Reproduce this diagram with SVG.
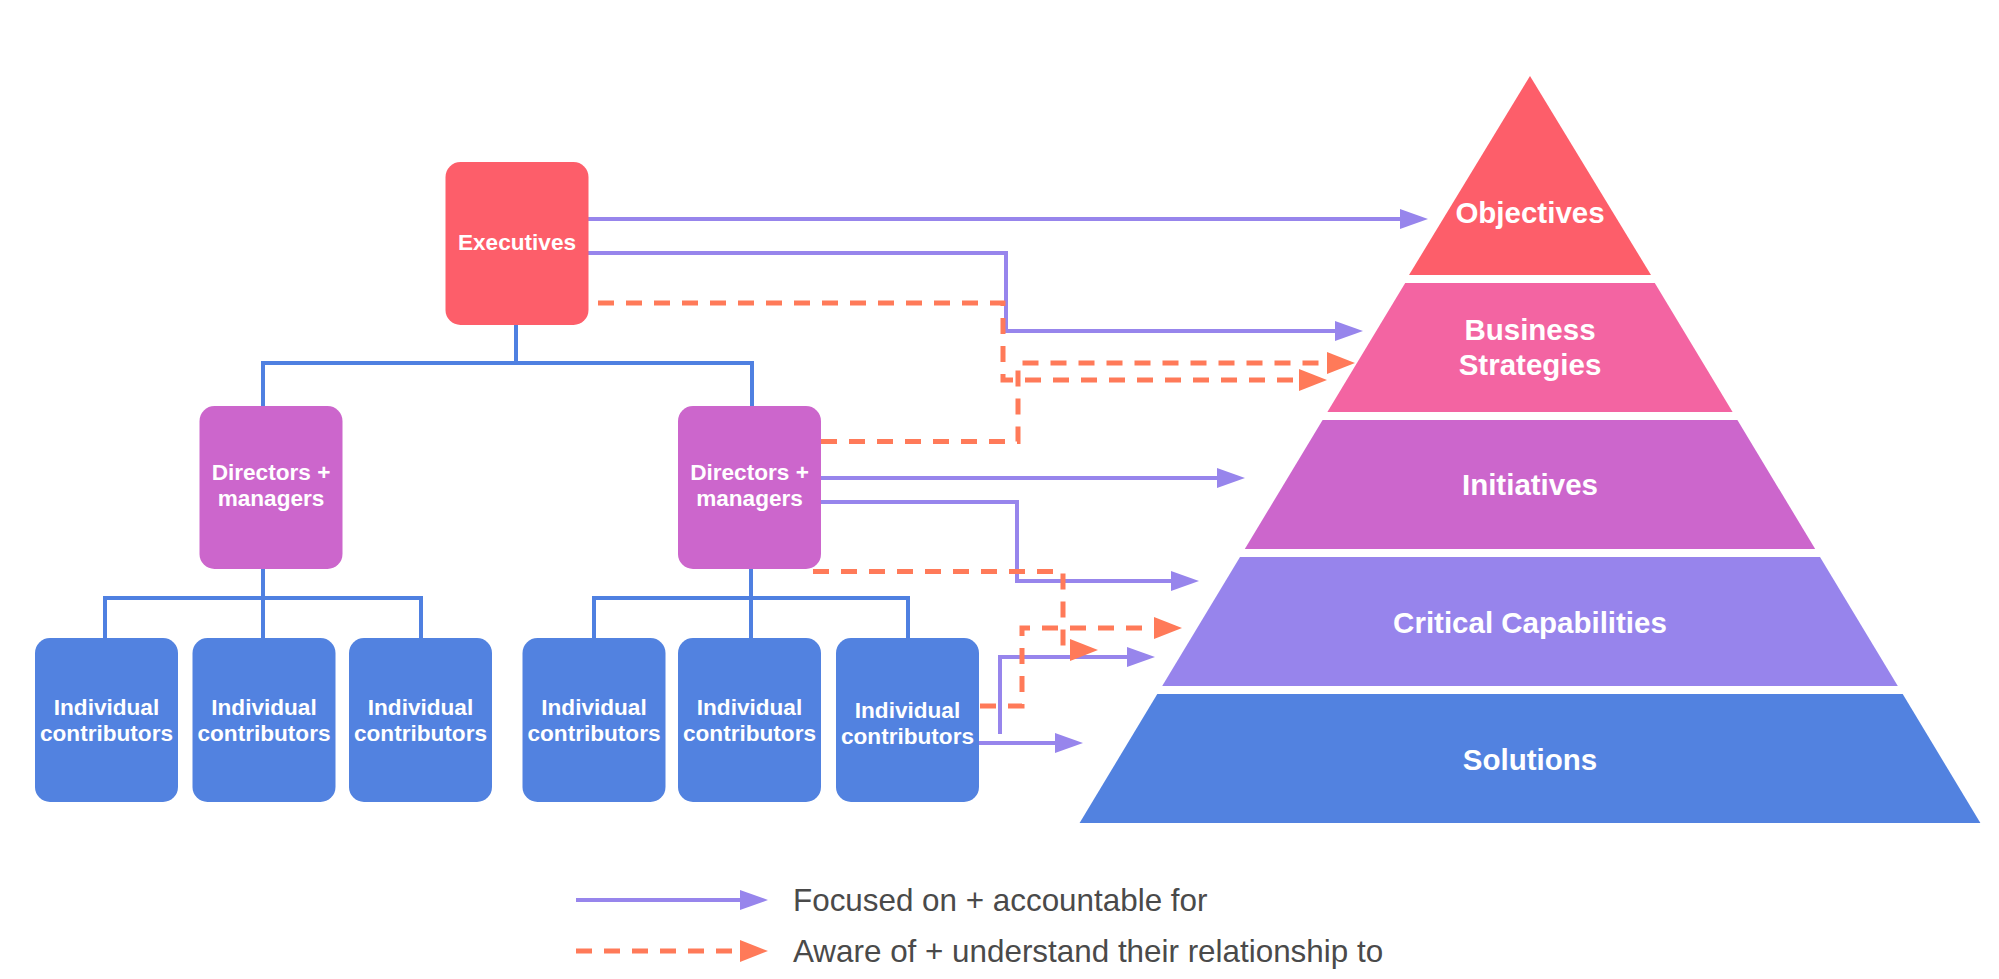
<svg xmlns="http://www.w3.org/2000/svg" width="1999" height="979" viewBox="0 0 1999 979">
<style>
.box-t{font-family:"Liberation Sans",Arial,sans-serif;font-weight:bold;font-size:22.6px;fill:#fff;text-anchor:middle}
.pyr-t{font-family:"Liberation Sans",Arial,sans-serif;font-weight:bold;font-size:29.5px;fill:#fff;text-anchor:middle}
.leg-t{font-family:"Liberation Sans",Arial,sans-serif;font-size:31.4px;fill:#4a4a4a}
.tree{fill:none;stroke:#4f80e1;stroke-width:4}
.focus{fill:none;stroke:#9785ec;stroke-width:4;marker-end:url(#ph)}
.aware{fill:none;stroke:#ff7a59;stroke-width:5;stroke-dasharray:16 12;marker-end:url(#oh)}
.exec{fill:#fd5e6a}
.dir{fill:#cc66cc}
.ic{fill:#5282e0}
</style>
<defs>
<marker id="ph" viewBox="0 0 28 20" refX="0" refY="10" markerWidth="28" markerHeight="20" markerUnits="userSpaceOnUse" orient="auto">
<path d="M0,0 L28,10 L0,20 z" fill="#9785ec"/>
</marker>
<marker id="oh" viewBox="0 0 28 22" refX="0" refY="11" markerWidth="28" markerHeight="22" markerUnits="userSpaceOnUse" orient="auto">
<path d="M0,0 L28,11 L0,22 z" fill="#ff7a59"/>
</marker>
</defs>
<rect width="1999" height="979" fill="#fff"/>

<g id="pyramid">
<g id="objectives"><polygon points="1530,76 1651,275 1409,275" fill="#fd5e6a"/><text class="pyr-t" x="1530" y="223">Objectives</text></g>
<g id="business-strategies"><polygon points="1405.2,283 1654.8,283 1732.6,412 1327.4,412" fill="#f364a2"/><text class="pyr-t" x="1530" y="340">Business</text><text class="pyr-t" x="1530" y="375">Strategies</text></g>
<g id="initiatives"><polygon points="1322.6,420 1737.4,420 1815.2,549 1244.8,549" fill="#cc66cc"/><text class="pyr-t" x="1530" y="495">Initiatives</text></g>
<g id="critical-capabilities"><polygon points="1240,557 1820,557 1897.8,686 1162.2,686" fill="#9784ec"/><text class="pyr-t" x="1530" y="633">Critical Capabilities</text></g>
<g id="solutions"><polygon points="1157.3,694 1902.7,694 1980.4,823 1079.6,823" fill="#5282e0"/><text class="pyr-t" x="1530" y="770">Solutions</text></g>
</g>

<g id="connectors">
<path class="tree" d="M516,325 V363 M263,406 V363 H752 V406"/>
<path class="tree" d="M263,569 V638 M105,638 V598 H421 V638"/>
<path class="tree" d="M751,569 V638 M594,638 V598 H908 V638"/>

<path class="focus" d="M588,219 H1400"/>
<path class="focus" d="M588,253 H1006 V331 H1335"/>
<path class="focus" d="M821,478 H1217"/>
<path class="focus" d="M821,502 H1017 V581 H1171"/>
<path class="focus" d="M1000,734 V657 H1127"/>
<path class="focus" d="M979,743 H1055"/>

<path class="aware" d="M598,303 H1003 V380 H1299"/>
<path class="aware" d="M821,441.5 H1018 V363 H1327"/>
<path class="aware" d="M813,571.5 H1063 V650 H1070"/>
<path class="aware" d="M980,706 H1022 V628 H1154"/>
</g>

<g id="executives"><rect class="exec" x="445.5" y="162" width="143" height="163" rx="15"/><text class="box-t" x="517" y="250">Executives</text></g>
<g id="directors-left"><rect class="dir" x="199.5" y="406" width="143" height="163" rx="15"/><text class="box-t" x="271" y="480">Directors +</text><text class="box-t" x="271" y="506">managers</text></g>
<g id="directors-right"><rect class="dir" x="678" y="406" width="143" height="163" rx="15"/><text class="box-t" x="749.5" y="480">Directors +</text><text class="box-t" x="749.5" y="506">managers</text></g>

<g id="ic-1"><rect class="ic" x="35" y="638" width="143" height="164" rx="15"/><text class="box-t" x="106.5" y="715">Individual</text><text class="box-t" x="106.5" y="741">contributors</text></g>
<g id="ic-2"><rect class="ic" x="192.5" y="638" width="143" height="164" rx="15"/><text class="box-t" x="264" y="715">Individual</text><text class="box-t" x="264" y="741">contributors</text></g>
<g id="ic-3"><rect class="ic" x="349" y="638" width="143" height="164" rx="15"/><text class="box-t" x="420.5" y="715">Individual</text><text class="box-t" x="420.5" y="741">contributors</text></g>
<g id="ic-4"><rect class="ic" x="522.5" y="638" width="143" height="164" rx="15"/><text class="box-t" x="594" y="715">Individual</text><text class="box-t" x="594" y="741">contributors</text></g>
<g id="ic-5"><rect class="ic" x="678" y="638" width="143" height="164" rx="15"/><text class="box-t" x="749.5" y="715">Individual</text><text class="box-t" x="749.5" y="741">contributors</text></g>
<g id="ic-6"><rect class="ic" x="836" y="638" width="143" height="164" rx="15"/><text class="box-t" x="907.5" y="718">Individual</text><text class="box-t" x="907.5" y="744">contributors</text></g>

<g id="legend">
<path class="focus" d="M576,900 H740"/>
<text class="leg-t" x="793" y="911">Focused on + accountable for</text>
<path class="aware" d="M576,951 H740"/>
<text class="leg-t" x="793" y="962">Aware of + understand their relationship to</text>
</g>
</svg>
